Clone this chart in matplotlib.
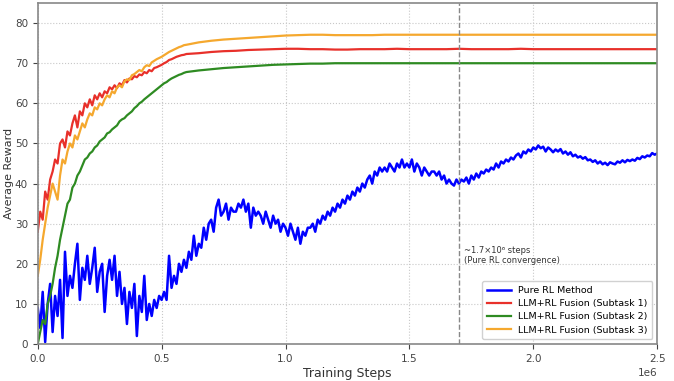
import numpy as np
import matplotlib
matplotlib.use("Agg")
import matplotlib.pyplot as plt

# training steps (millions) for the pure RL curve: every 0.01e6
rl_steps = np.arange(0, 2.5001, 0.01) * 1e6
rl_reward = [
    9, 4, 13, 0.5, 10, 15, 3, 12, 7, 16,
    1.5, 23, 12, 17, 14, 20, 25, 11, 19, 16,
    22, 15, 19, 24, 13, 18, 20, 8, 17, 21,
    16, 22, 12, 18, 10, 14, 5, 13, 9, 15,
    2, 12, 8, 17, 6, 10, 7, 11, 9, 12,
    11, 13, 11, 22, 14, 17, 15, 20, 18, 21,
    19, 23, 21, 27, 22, 25, 24, 29, 26, 30,
    31, 28, 34, 36, 32, 33, 35, 31, 34, 33,
    33, 35, 34, 36, 33, 35, 29, 34, 32, 33,
    32, 30, 33, 31, 29, 32, 30, 31, 28, 30,
    29, 27, 30, 28, 26, 29, 25, 28, 27, 29,
    29, 30, 28, 31, 30, 32, 31, 33, 32, 34,
    33, 35, 34, 36, 35, 37, 36, 38, 37, 39,
    38, 40, 39, 41, 42, 40, 43, 42, 44, 43,
    44, 43, 45, 44, 43, 45, 44, 46, 44, 45,
    44, 46, 43, 45, 44, 42, 44, 43, 42, 43,
    43, 42, 43, 41, 42, 40, 41, 40, 39.5, 41,
    40, 41, 40.5, 41.5, 40, 42, 41, 42.5, 41.5, 43,
    42.5, 43.5, 43, 44, 43.5, 45, 44, 45.5, 45, 46,
    45.5, 46.5, 46, 47, 47.5, 46.5, 48, 47.5, 48.5, 48,
    49, 48.5, 49.5, 48.8, 49.2, 48, 49, 48.5, 47.8, 48.5,
    48, 48.6, 47.5, 48, 47.2, 47.8, 46.8, 47.2, 46.5, 46.8,
    46.2, 46.6, 45.8, 46, 45.4, 45.8, 45, 45.5, 44.8, 45.2,
    44.6, 45.3, 45, 44.8, 45.5, 45.2, 45.8, 45.3, 45.9, 45.6,
    46, 45.7, 46.4, 46.1, 46.8, 46.5, 47, 46.8, 47.6, 47.2,
    47.5,
]

# fusion curves: dense until 0.6e6, then every 0.05e6
fusion_steps = np.concatenate([np.arange(0, 0.6001, 0.01),
                               np.arange(0.65, 2.5001, 0.05)]) * 1e6

sub1 = [
    28, 33, 31, 38, 36, 41, 43, 46, 45, 50,
    51, 49, 53, 52, 55, 57, 54, 58, 57, 60,
    59, 61, 59.5, 62, 61, 62.5, 61.5, 63, 62.5, 64,
    63.5, 64.5, 63.8, 65, 64.5, 65.8, 65.2, 66.2, 66, 66.8,
    66.5, 67.2, 67, 67.8, 67.5, 68.3, 68, 68.8, 69, 69.3,
    69.6, 70, 70.3, 70.8, 71, 71.3, 71.6, 71.8, 72, 72.1, 72.3,
    72.5, 72.8, 73, 73.1, 73.3, 73.4, 73.5, 73.6, 73.6, 73.5,
    73.5, 73.4, 73.4, 73.5, 73.5, 73.5, 73.6, 73.5, 73.5, 73.5,
    73.5, 73.6, 73.5, 73.5, 73.5, 73.5, 73.6, 73.5, 73.5, 73.5,
    73.5, 73.5, 73.5, 73.5, 73.5, 73.5, 73.5, 73.5,
]

sub2 = [
    0, 3, 6, 5, 10, 12, 15, 19, 22, 26,
    29, 32, 35, 36, 39, 40, 42, 43, 44.5, 46,
    46.5, 47.5, 48, 49, 49.5, 50.5, 51, 51.5, 52.5, 52.8,
    53.5, 54, 54.5, 55.5, 56, 56.3, 57, 57.5, 58, 58.8,
    59.3, 60, 60.4, 61, 61.5, 62, 62.5, 63, 63.5, 64,
    64.5, 65, 65.3, 65.8, 66.2, 66.5, 66.8, 67.1, 67.3, 67.6, 67.8,
    68.2, 68.5, 68.8, 69, 69.2, 69.4, 69.6, 69.7, 69.8, 69.9,
    69.9, 70, 70, 70, 70, 70, 70, 70, 70, 70,
    70, 70, 70, 70, 70, 70, 70, 70, 70, 70,
    70, 70, 70, 70, 70, 70, 70, 70,
]

sub3 = [
    17, 21, 26, 30, 34, 37, 40, 38, 36, 42,
    46, 45, 48, 50, 49, 52, 51, 53, 55, 54,
    56, 57.5, 57, 59, 58.5, 60, 59.5, 61, 62, 61.5,
    63, 62.5, 64, 64.5, 64, 65.5, 66, 65.8, 67, 67.3,
    67.8, 68.3, 68, 69, 69.5, 69.3, 70.2, 70.6, 71, 71.3,
    71.6, 72, 72.4, 72.8, 73.1, 73.4, 73.7, 74, 74.2, 74.5, 74.6,
    75.2, 75.6, 75.9, 76.1, 76.3, 76.5, 76.7, 76.9, 77, 77.1,
    77.1, 77, 77, 77, 77, 77.1, 77.1, 77.1, 77.1, 77.1,
    77.1, 77.1, 77.1, 77.1, 77.1, 77.1, 77.1, 77.1, 77.1, 77.1,
    77.1, 77.1, 77.1, 77.1, 77.1, 77.1, 77.1, 77.1,
]

labels = ["Pure RL Method", "LLM+RL Fusion (Subtask 1)",
          "LLM+RL Fusion (Subtask 2)", "LLM+RL Fusion (Subtask 3)"]
colors = ["#0000ff", "#e8302a", "#2e8b22", "#f5a82e"]
conv_step = 1.7e6

fig = plt.figure(figsize=(6.74, 3.81), dpi=100)
ax = fig.add_axes([0.056, 0.097, 0.919, 0.895])

ax.plot(rl_steps, rl_reward, color=colors[0], lw=1.8, label=labels[0])
ax.plot(fusion_steps, sub1, color=colors[1], lw=1.6, label=labels[1])
ax.plot(fusion_steps, sub2, color=colors[2], lw=1.6, label=labels[2])
ax.plot(fusion_steps, sub3, color=colors[3], lw=1.6, label=labels[3])

ax.axvline(conv_step, color="#888888", ls="--", lw=1)
ax.text(conv_step + 0.02e6, 22, "~1.7×10⁶ steps\n(Pure RL convergence)",
        fontsize=6, color="#333333", va="center", linespacing=1.1)

ax.set_xlim(0, 2.5e6)
ax.set_ylim(0, 85)
ax.set_xticks(np.arange(0, 2.51e6, 0.5e6))
ax.set_yticks(np.arange(0, 81, 10))
ax.grid(True, ls=":", color="#c8c8c8", lw=0.8)
ax.tick_params(labelsize=7.5, colors="#444444")
for s in ax.spines.values():
    s.set_color("#888888")
    s.set_linewidth(1.2)
ax.xaxis.get_offset_text().set_fontsize(7.5)
ax.xaxis.get_offset_text().set_color("#444444")

ax.set_xlabel("Training Steps", fontsize=9, color="#333333", labelpad=2)
ax.set_ylabel("Average Reward", fontsize=8, color="#333333")
ax.yaxis.set_label_coords(-0.038, 0.5)

ax.legend(loc="lower right", fontsize=6.8, framealpha=0.9, edgecolor="#cccccc",
          handlelength=2.5, borderpad=0.5, labelspacing=0.45)

fig.savefig("out.png", dpi=100)
